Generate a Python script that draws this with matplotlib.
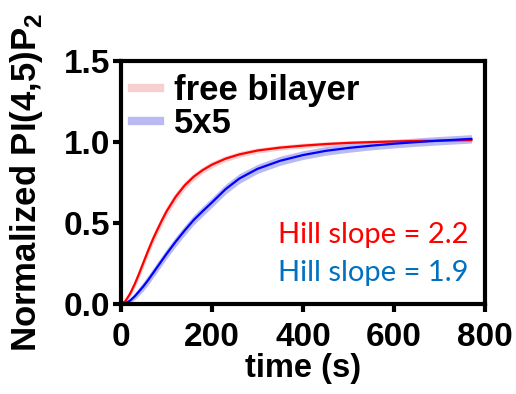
import matplotlib
matplotlib.use('Agg')
import numpy as np
import matplotlib.pyplot as plt

plt.rcParams['font.family'] = 'Liberation Sans'
plt.rcParams['font.weight'] = 'bold'
plt.rcParams['mathtext.fontset'] = 'custom'
plt.rcParams['mathtext.rm'] = 'Liberation Sans:bold'
plt.rcParams['mathtext.bf'] = 'Liberation Sans:bold'

# time points (s)
time = [0, 10, 20, 30, 40, 50, 60, 70, 80, 90, 100, 120, 140, 160, 180, 200,
        230, 260, 300, 350, 400, 450, 500, 550, 600, 650, 700, 770]

# free bilayer: fitted curve and spread of the data
free_fit = [0, 0.02, 0.065, 0.123, 0.19, 0.262, 0.333, 0.40, 0.46, 0.518, 0.572,
            0.662, 0.733, 0.787, 0.828, 0.861, 0.898, 0.924, 0.948, 0.966, 0.978,
            0.988, 0.995, 1.0, 1.004, 1.007, 1.009, 1.012]
free_sd = [0, 0.01, 0.02, 0.025, 0.03, 0.03, 0.03, 0.03, 0.03, 0.03, 0.03, 0.028,
           0.025, 0.022, 0.02, 0.02, 0.018, 0.018, 0.016, 0.015, 0.015, 0.014,
           0.014, 0.013, 0.013, 0.012, 0.012, 0.012]

# 5x5
grid_fit = [0, 0.005, 0.022, 0.048, 0.08, 0.113, 0.15, 0.19, 0.23, 0.27, 0.31,
            0.385, 0.455, 0.52, 0.575, 0.628, 0.71, 0.775, 0.835, 0.885, 0.92,
            0.946, 0.964, 0.978, 0.99, 1.0, 1.009, 1.02]
grid_sd = [0, 0.01, 0.015, 0.02, 0.025, 0.028, 0.03, 0.03, 0.03, 0.03, 0.03, 0.03,
           0.03, 0.03, 0.03, 0.03, 0.03, 0.03, 0.028, 0.028, 0.027, 0.027, 0.027,
           0.026, 0.026, 0.026, 0.026, 0.026]

hill_labels = ['Hill slope = 2.2', 'Hill slope = 1.9']

t = np.array(time)
fig = plt.figure(figsize=(5.16, 3.94), dpi=100)
ax = fig.add_axes([0.2345, 0.228, 0.7055, 0.617])

ax.fill_between(t, np.array(free_fit) - free_sd, np.array(free_fit) + free_sd,
                color='#f8cfd0', lw=0)
ax.fill_between(t, np.array(grid_fit) - grid_sd, np.array(grid_fit) + grid_sd,
                color='#babaf2', lw=0)
ax.plot(t, free_fit, color='#ff0000', lw=1.6)
ax.plot(t, grid_fit, color='#0000ff', lw=1.6)

# legend handles drawn as thick pale bands
h1, = ax.plot([], [], color='#f8cfd0', lw=6)
h2, = ax.plot([], [], color='#babaf2', lw=6)
ax.legend([h1, h2], ['free bilayer', '5x5'], loc='upper left', frameon=False,
          fontsize=25, handlelength=0.8, handletextpad=0.4, labelspacing=0.0,
          borderaxespad=0.0, bbox_to_anchor=(-0.008, 1.005))

ax.text(0.955, 0.284, hill_labels[0], color='#ff0000', transform=ax.transAxes,
        ha='right', va='center', fontsize=21, fontweight='normal', family='Lato')
ax.text(0.955, 0.128, hill_labels[1], color='#0070c0', transform=ax.transAxes,
        ha='right', va='center', fontsize=21, fontweight='normal', family='Lato')

ax.set_xlim(0, 800)
ax.set_ylim(0, 1.5)
ax.set_xticks([0, 200, 400, 600, 800])
ax.set_yticks([0, 0.5, 1.0, 1.5])
ax.set_yticklabels(['0.0', '0.5', '1.0', '1.5'])
ax.tick_params(width=3, length=6, labelsize=24, pad=2)
ax.tick_params(axis='x', pad=7)
for s in ax.spines.values():
    s.set_linewidth(3)

ax.set_xlabel('time (s)', fontsize=23.5, fontweight='bold', labelpad=0)
ax.set_ylabel(r'Normalized PI(4,5)P$_\mathbf{2}$', fontsize=25, fontweight='bold', labelpad=13)

fig.savefig('out.png', dpi=100)
